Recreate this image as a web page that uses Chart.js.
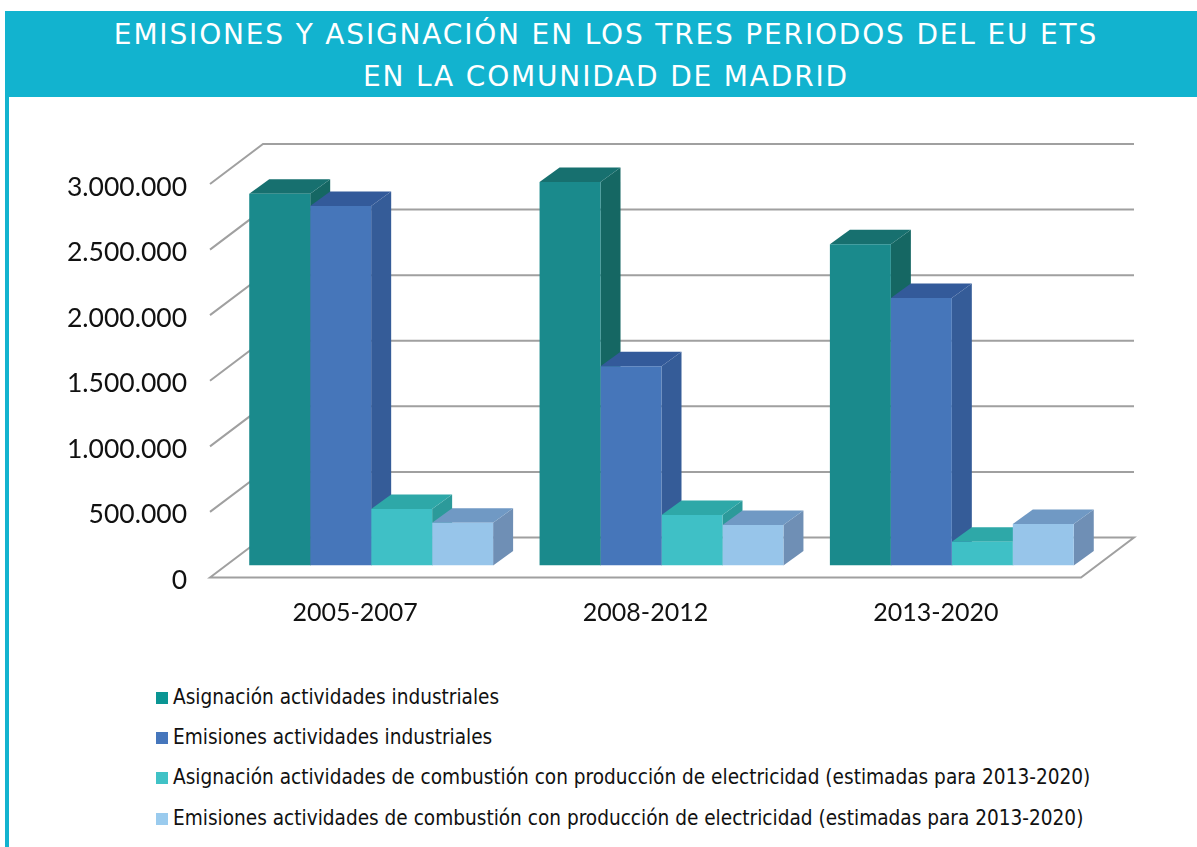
<!DOCTYPE html>
<html lang="es">
<head>
<meta charset="utf-8">
<title>Emisiones y asignación EU ETS</title>
<script src="https://cdn.jsdelivr.net/npm/chart.js@4"></script>
<style>
    html, body { margin: 0; padding: 0; background: #fff; }
    body { position: relative; width: 1197px; height: 847px; overflow: hidden; }
    #stripe { position: absolute; left: 5px; top: 11px; width: 4px; height: 836px; background: #12b3cf; }
    #header {
        position: absolute; left: 5px; top: 11px; width: 1192px; height: 86px;
        background: #12b3cf; color: #fff; text-align: center;
        font: 28px/42px "DejaVu Sans", sans-serif; letter-spacing: 1.83px; box-sizing: border-box; padding: 3px 0 0 10px;
    }
    #chartCanvas { position: absolute; left: 0; top: 0; }
    #legend { position: absolute; left: 156px; top: 676.5px; font: 20.6px/40.4px "DejaVu Sans Condensed", "DejaVu Sans", sans-serif; font-stretch: condensed; color: #111; }
    #legend div { white-space: nowrap; }
    #legend span { display: inline-block; width: 12px; height: 12px; margin-right: 5px; }
</style>
</head>
<body>
<canvas id="chartCanvas" width="1197" height="660"></canvas>
<div id="stripe"></div>
<div id="header">EMISIONES Y ASIGNACIÓN EN LOS TRES PERIODOS DEL EU ETS<br>EN LA COMUNIDAD DE MADRID</div>
<div id="legend"></div>
<script>
const categories = ['2005-2007', '2008-2012', '2013-2020'];
const seriesNames = [
    'Asignación actividades industriales',
    'Emisiones actividades industriales',
    'Asignación actividades de combustión con producción de electricidad (estimadas para 2013-2020)',
    'Emisiones actividades de combustión con producción de electricidad (estimadas para 2013-2020)'
];
const asignacionIndustrial = [2835000, 2923000, 2450000];
const emisionesIndustrial = [2740000, 1520000, 2039000];
const asignacionCombustion = [430000, 385000, 181000];
const emisionesCombustion = [326000, 309000, 316000];

const frontColors = ['#1a8a8c', '#4676ba', '#3fc0c6', '#97c5ea'];
const topColors = ['#17706f', '#335a9a', '#2ea8a8', '#7099c4'];
const sideColors = ['#156763', '#355c98', '#2c9a9a', '#6f8fb5'];
const legendColors = ['#0a9593', '#4576bc', '#40c2c6', '#9acbee'];

// fake 3D: offsets of the floor and walls relative to the plane of the bars
const wall = { frontX: -16, frontY: 12, backX: 37, backY: -28 };
const barDepth = { x: 20, y: -14.5 };

function fillPoly(ctx, color, pts) {
    ctx.fillStyle = color;
    ctx.beginPath();
    ctx.moveTo(pts[0][0], pts[0][1]);
    for (let i = 1; i < pts.length; i++) ctx.lineTo(pts[i][0], pts[i][1]);
    ctx.closePath();
    ctx.fill();
}

const box3d = {
    id: 'box3d',
    beforeDatasetsDraw(chart) {
        const { ctx, chartArea, scales } = chart;
        ctx.save();
        ctx.strokeStyle = '#a0a0a0';
        ctx.lineWidth = 2;
        scales.y.ticks.forEach(tick => {
            const y = scales.y.getPixelForValue(tick.value);
            ctx.beginPath();
            ctx.moveTo(chartArea.left + wall.frontX, y + wall.frontY);
            ctx.lineTo(chartArea.left + wall.backX, y + wall.backY);
            ctx.lineTo(chartArea.right + wall.backX, y + wall.backY);
            if (tick.value === 0) {
                ctx.lineTo(chartArea.right + wall.frontX, y + wall.frontY);
                ctx.closePath();
            }
            ctx.stroke();
        });
        // sides and tops left to right, so each bar's top covers its neighbour's side
        chart.data.datasets.forEach((ds, i) => {
            chart.getDatasetMeta(i).data.forEach(bar => {
                const p = bar.getProps(['x', 'y', 'base', 'width'], true);
                const l = p.x - p.width / 2;
                const r = p.x + p.width / 2;
                fillPoly(ctx, sideColors[i], [[r, p.y], [r + barDepth.x, p.y + barDepth.y], [r + barDepth.x, p.base + barDepth.y], [r, p.base]]);
                fillPoly(ctx, topColors[i], [[l, p.y], [l + barDepth.x, p.y + barDepth.y], [r + barDepth.x, p.y + barDepth.y], [r, p.y]]);
            });
        });
        ctx.restore();
    }
};

const seriesValues = [asignacionIndustrial, emisionesIndustrial, asignacionCombustion, emisionesCombustion];

new Chart(document.getElementById('chartCanvas'), {
    type: 'bar',
    data: {
        labels: categories,
        datasets: seriesValues.map((values, i) => ({
            label: seriesNames[i],
            data: values,
            backgroundColor: frontColors[i],
            categoryPercentage: 0.84,
            barPercentage: 1
        }))
    },
    options: {
        responsive: false,
        animation: false,
        layout: { padding: { top: 172, right: 100, left: 0, bottom: 0 } },
        plugins: { legend: { display: false }, title: { display: false }, tooltip: { enabled: false } },
        scales: {
            x: {
                grid: { display: false },
                border: { display: false },
                afterFit: scale => { scale.height = 94.5; },
                ticks: {
                    color: '#111',
                    font: { family: 'Lato', size: 25 },
                    padding: 24,
                    labelOffset: -16,
                    maxRotation: 0,
                    minRotation: 0
                }
            },
            y: {
                min: 0,
                max: 3000000,
                grid: { display: false },
                border: { display: false },
                afterFit: scale => { scale.width = 226; },
                ticks: {
                    stepSize: 500000,
                    color: '#111',
                    font: { family: 'Lato', size: 26.5 },
                    padding: 31,
                    labelOffset: 15,
                    callback: value => String(value).replace(/\B(?=(\d{3})+$)/g, '.')
                }
            }
        }
    },
    plugins: [box3d]
});

const legendBox = document.getElementById('legend');
seriesNames.forEach((name, i) => {
    const row = document.createElement('div');
    const mark = document.createElement('span');
    mark.style.background = legendColors[i];
    row.appendChild(mark);
    row.appendChild(document.createTextNode(name));
    legendBox.appendChild(row);
});
</script>
</body>
</html>
